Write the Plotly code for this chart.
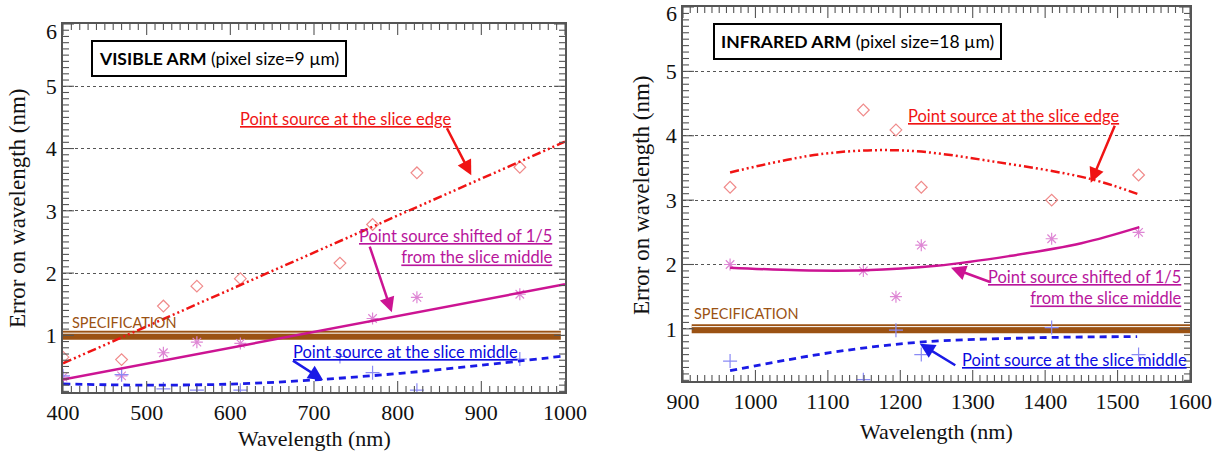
import plotly.graph_objects as go

# ---------------- data ----------------
# Visible arm
vis_wl_edge = [400, 470, 520, 560, 612, 731, 770, 823, 946]
vis_err_edge = [0.65, 0.61, 1.47, 1.79, 1.91, 2.16, 2.78, 3.61, 3.70]
vis_wl_shift = [400, 470, 520, 560, 612, 770, 823, 946]
vis_err_shift = [0.33, 0.35, 0.72, 0.89, 0.87, 1.27, 1.61, 1.66]
vis_wl_mid = [400, 470, 520, 560, 612, 731, 770, 823, 946]
vis_err_mid = [0.35, 0.37, 0.14, 0.12, 0.12, 0.66, 0.40, 0.12, 0.62]
vis_fit_edge_x = [400, 1000]
vis_fit_edge_y = [0.55, 4.11]
vis_fit_shift_x = [400, 1000]
vis_fit_shift_y = [0.29, 1.82]
vis_fit_mid_x = [400, 500, 608, 707, 803, 900, 1000]
vis_fit_mid_y = [0.22, 0.20, 0.22, 0.29, 0.39, 0.52, 0.67]
vis_spec_x = [400, 995]

# Infrared arm
ir_wl = [965, 1149, 1194, 1229, 1409, 1529]
ir_err_edge = [3.20, 4.40, 4.09, 3.20, 3.00, 3.39]
ir_err_shift = [2.00, 1.90, 1.50, 2.30, 2.40, 2.50]
ir_err_mid = [0.50, 0.21, 0.98, 0.60, 1.02, 0.60]
ir_fit_edge_x = [965, 1094, 1206, 1334, 1462, 1529]
ir_fit_edge_y = [3.43, 3.72, 3.77, 3.59, 3.33, 3.09]
ir_fit_shift_x = [965, 1060, 1150, 1250, 1350, 1450, 1530]
ir_fit_shift_y = [1.95, 1.91, 1.91, 1.98, 2.13, 2.33, 2.58]
ir_fit_mid_x = [965, 1103, 1224, 1379, 1527]
ir_fit_mid_y = [0.35, 0.63, 0.79, 0.86, 0.88]
ir_spec_x = [912, 1600]

spec_value = 1.0
y_tickvals = [1, 2, 3, 4, 5, 6]
y_ticktext = ["1", "2", "3", "4", "5", ""]
y_top_label = "6"
vis_x_major = [400, 500, 600, 700, 800, 900, 1000]
ir_x_major = [900, 1000, 1100, 1200, 1300, 1400, 1500, 1600]
vis_x_minor = list(range(400, 1001, 10))
ir_x_minor = list(range(900, 1601, 10))
vis_y_minor = [k / 10 for k in range(1, 61)]
ir_y_minor = [k / 10 for k in range(2, 61)]

# ---------------- styles ----------------
RED = "#f01414"
RED_M = "#f08a8a"
MAG = "#cc1493"
MAG_T = "#b8169c"
MAG_M = "#de86d4"
BLUE = "#1a1ae6"
BLUE_T = "#0a0ae0"
BLUE_M = "#8a8af5"
BROWN = "#9b5213"
TICKC = "#555555"
W, H = 1215, 451

fig = go.Figure()


def add_panel(xa, ya, wl_e, e_e, wl_s, e_s, wl_m, e_m, fex, fey, fsx, fsy, fmx, fmy, spx):
    fig.add_trace(go.Scatter(x=spx, y=[spec_value] * 2, mode="lines",
                             line=dict(color=BROWN, width=9), xaxis=xa, yaxis=ya, hoverinfo="skip"))
    fig.add_trace(go.Scatter(x=spx, y=[spec_value + 0.035] * 2, mode="lines",
                             line=dict(color="white", width=1), xaxis=xa, yaxis=ya, hoverinfo="skip"))
    fig.add_trace(go.Scatter(x=wl_e, y=e_e, mode="markers", xaxis=xa, yaxis=ya,
                             marker=dict(symbol="diamond-open", size=9, color=RED_M, line=dict(width=1.2))))
    fig.add_trace(go.Scatter(x=wl_s, y=e_s, mode="markers", xaxis=xa, yaxis=ya,
                             marker=dict(symbol="asterisk-open", size=10, color=MAG_M, line=dict(width=1.2, color=MAG_M))))
    fig.add_trace(go.Scatter(x=wl_m, y=e_m, mode="markers", xaxis=xa, yaxis=ya,
                             marker=dict(symbol="cross-thin-open", size=10, color=BLUE_M, line=dict(width=1.2, color=BLUE_M))))
    fig.add_trace(go.Scatter(x=fex, y=fey, mode="lines", xaxis=xa, yaxis=ya, line_shape="spline",
                             line=dict(color=RED, width=2.5, dash="9px,3px,2px,3px,2px,3px,2px,3px")))
    fig.add_trace(go.Scatter(x=fsx, y=fsy, mode="lines", xaxis=xa, yaxis=ya, line_shape="spline",
                             line=dict(color=MAG, width=2.5)))
    fig.add_trace(go.Scatter(x=fmx, y=fmy, mode="lines", xaxis=xa, yaxis=ya, line_shape="spline",
                             line=dict(color=BLUE, width=2.8, dash="7px,5px")))


add_panel("x", "y", vis_wl_edge, vis_err_edge, vis_wl_shift, vis_err_shift, vis_wl_mid, vis_err_mid,
          vis_fit_edge_x, vis_fit_edge_y, vis_fit_shift_x, vis_fit_shift_y, vis_fit_mid_x, vis_fit_mid_y, vis_spec_x)
add_panel("x2", "y2", ir_wl, ir_err_edge, ir_wl, ir_err_shift, ir_wl, ir_err_mid,
          ir_fit_edge_x, ir_fit_edge_y, ir_fit_shift_x, ir_fit_shift_y, ir_fit_mid_x, ir_fit_mid_y, ir_spec_x)

TICKFONT = dict(family="Liberation Serif", size=22, color="#111")


def xax(dom, rng, ticks, anchor):
    return dict(domain=dom, range=rng, tickmode="array", tickvals=ticks, ticks="",
                showline=True, linecolor="#555", linewidth=1.6, mirror=True, showgrid=False,
                zeroline=False, tickfont=TICKFONT, automargin=False, anchor=anchor)


def yax(dom, rng, anchor):
    return dict(domain=dom, range=rng, tickmode="array", tickvals=y_tickvals, ticktext=y_ticktext,
                ticks="", showline=True, linecolor="#555", linewidth=1.6, mirror=True,
                showgrid=True, gridcolor="#555", griddash="dot", gridwidth=1,
                zeroline=False, tickfont=TICKFONT, anchor=anchor, automargin=False)


fig.update_layout(
    width=W, height=H, margin=dict(l=0, r=0, t=0, b=0, autoexpand=False), showlegend=False,
    paper_bgcolor="white", plot_bgcolor="white",
    xaxis=xax([63 / W, 565 / W], [400, 1000], vis_x_major, "y"),
    yaxis=yax([1 - 392 / H, 1 - 24 / H], [0.09, 6], "x"),
    xaxis2=xax([683 / W, 1190 / W], [900, 1600], ir_x_major, "y2"),
    yaxis2=yax([1 - 381 / H, 1 - 7 / H], [0.19, 6], "x2"),
)

# ---------------- frame tick marks (inside, on all four sides) ----------------
shapes = []


def xticks(vals, major, xr, yr, rng):
    for v in vals:
        if v < rng[0] or v > rng[1]:
            continue
        ln = 11 if v in major else 6
        for anchor, sgn in ((0, 1), (1, -1)):
            shapes.append(dict(type="line", xref=xr, yref=yr + " domain", x0=v, x1=v,
                               ysizemode="pixel", yanchor=anchor, y0=0, y1=sgn * ln,
                               line=dict(color=TICKC, width=1.1), layer="above"))


def yticks(vals, major, xr, yr, rng):
    for v in vals:
        if v < rng[0] or v > rng[1]:
            continue
        ln = 11 if any(abs(v - m) < 1e-9 for m in major) else 6
        for anchor, sgn in ((0, 1), (1, -1)):
            shapes.append(dict(type="line", yref=yr, xref=xr + " domain", y0=v, y1=v,
                               xsizemode="pixel", xanchor=anchor, x0=0, x1=sgn * ln,
                               line=dict(color=TICKC, width=1.1), layer="above"))


xticks(vis_x_minor, vis_x_major, "x", "y", [400, 1000])
yticks(vis_y_minor, y_tickvals, "x", "y", [0.09, 6])
xticks(ir_x_minor, ir_x_major, "x2", "y2", [900, 1600])
yticks(ir_y_minor, y_tickvals, "x2", "y2", [0.19, 6])
fig.update_layout(shapes=shapes)

# ---------------- annotations ----------------
ann = []
AF = "Lato"
TS = 16.5


def txt(t, x, y, xr, yr, color, size=TS, xanchor="left", align="left", **kw):
    ann.append(dict(text=t, x=x, y=y, xref=xr, yref=yr, showarrow=False, xanchor=xanchor,
                    yanchor="middle", align=align, font=dict(family=AF, size=size, color=color), **kw))


def arrow(x0, y0, x1, y1, xr, yr, color):
    ann.append(dict(text="", x=x1, y=y1, ax=x0, ay=y0, xref=xr, yref=yr, axref=xr, ayref=yr,
                    showarrow=True, arrowhead=2, arrowsize=1.2, arrowwidth=2.5, arrowcolor=color))


for xr, yr in (("x domain", "y"), ("x2 domain", "y2")):
    ann.append(dict(text=y_top_label, x=0, y=y_tickvals[-1], xref=xr, yref=yr, showarrow=False,
                    xanchor="right", yanchor="middle", xshift=-4, yshift=-7, font=TICKFONT))

# Visible panel
txt("<b>VISIBLE ARM</b> (pixel size=9 µm)", 587, 5.44, "x", "y", "black", size=17.5, xanchor="center",
    bordercolor="black", borderwidth=2, borderpad=6, bgcolor="white")
txt("<u>Point source at the slice edge</u>", 609, 4.48, "x", "y", RED)
arrow(858, 4.35, 888, 3.57, "x", "y", RED)
txt("<u>Point source shifted of 1/5</u><br><u>from the slice middle</u>", 988, 2.42, "x", "y", MAG_T,
    xanchor="right", align="right")
arrow(766, 2.45, 793, 1.37, "x", "y", MAG)
txt("<u>Point source at the slice middle</u>", 673, 0.74, "x", "y", BLUE_T)
arrow(673, 0.61, 711, 0.28, "x", "y", BLUE)
txt("SPECIFICATION", 408, 1.21, "x", "y", BROWN, size=14.5)

# Infrared panel
txt("<b>INFRARED ARM</b> (pixel size=18 µm)", 1141, 5.46, "x2", "y2", "black", size=17.5, xanchor="center",
    bordercolor="black", borderwidth=2, borderpad=6, bgcolor="white")
txt("<u>Point source at the slice edge</u>", 1208, 4.30, "x2", "y2", RED)
arrow(1497, 4.18, 1463, 3.27, "x2", "y2", RED)
txt("<u>Point source shifted of 1/5</u><br><u>from the slice middle</u>", 1592, 1.645, "x2", "y2", MAG_T,
    xanchor="right", align="right")
arrow(1326, 1.72, 1270, 1.95, "x2", "y2", MAG)
txt("<u>Point source at the slice middle</u>", 1283, 0.51, "x2", "y2", BLUE_T)
arrow(1278, 0.42, 1227, 0.77, "x2", "y2", BLUE)
txt("SPECIFICATION", 913, 1.24, "x2", "y2", BROWN, size=14.5)

# Axis titles
TF = dict(family="Liberation Serif", size=22, color="#111")
ann.append(dict(text="Wavelength (nm)", x=314 / W, y=1 - 438 / H, xref="paper", yref="paper",
                showarrow=False, font=TF, xanchor="center", yanchor="middle"))
ann.append(dict(text="Wavelength (nm)", x=936 / W, y=1 - 431 / H, xref="paper", yref="paper",
                showarrow=False, font=TF, xanchor="center", yanchor="middle"))
ann.append(dict(text="Error on wavelength (nm)", x=17 / W, y=1 - 208 / H, xref="paper", yref="paper",
                showarrow=False, font=dict(TF, size=23), textangle=-90, xanchor="center", yanchor="middle"))
ann.append(dict(text="Error on wavelength (nm)", x=641 / W, y=1 - 195 / H, xref="paper", yref="paper",
                showarrow=False, font=dict(TF, size=23), textangle=-90, xanchor="center", yanchor="middle"))

fig.update_layout(annotations=ann)
fig.write_html("out.html")
